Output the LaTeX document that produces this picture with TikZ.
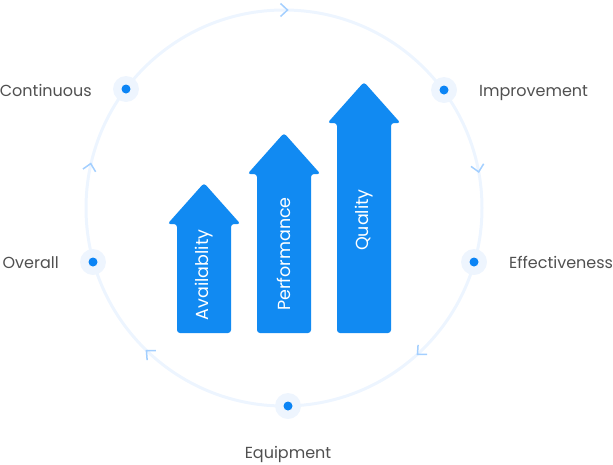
\documentclass[tikz,border=0pt]{standalone}
\usepackage{fontspec}
\setmainfont{Poppins}
\usepackage{tikz}
\usetikzlibrary{positioning}
\definecolor{ringblue}{HTML}{EDF5FF}
\definecolor{haloblue}{HTML}{EEF5FE}
\definecolor{dotblue}{HTML}{0B84F5}
\definecolor{arrowblue}{HTML}{118AF2}
\definecolor{chevblue}{HTML}{A3CFFF}
\definecolor{labelgray}{HTML}{505050}
\tikzset{
  ring/.style={draw=ringblue, line width=3pt},
  halo/.style={fill=haloblue},
  dot/.style={fill=dotblue},
  blockarrow/.style={fill=arrowblue, rounded corners=3pt},
  arrowtext/.style={text=white, inner sep=0pt, font=\fontsize{17.5}{17.5}\selectfont, rotate=90},
  steplabel/.style={text=labelgray, inner sep=0pt, font=\fontsize{16}{16}\selectfont},
  chev/.pic={\draw[draw=chevblue, line width=1.5pt] (-3.5,-6.5) -- (3.5,0) -- (-3.5,6.5);}
}

\begin{document}
\begin{tikzpicture}[x=1pt, y=-1pt]
\useasboundingbox (0,0) rectangle (613,464);
\coordinate (C) at (284,208);
\coordinate (cont) at (126,89);
\coordinate (impr) at (444,90);
\coordinate (effe) at (474,262);
\coordinate (equi) at (288,406);
\coordinate (over) at (93,262);
\draw[ring] (C) circle[radius=198];
\pic[rotate=0] at (284,10) {chev};
\pic[rotate=-78.5] at (478,168.5) {chev};
\pic[rotate=-136.6] at (420,352) {chev};
\pic[rotate=137.1] at (149,353) {chev};
\pic[rotate=78] at (90,167) {chev};
\foreach \p in {cont,impr,effe,equi,over}{
  \fill[halo] (\p) circle[radius=13];
  \fill[dot] (\p) circle[radius=4.5];
}
\node[steplabel, anchor=base east] (contlabel) at (92,96) {Continuous};
\node[steplabel, anchor=base west] (imprlabel) at (479,96) {Improvement};
\node[steplabel, anchor=base west] (effelabel) at (509,268) {Effectiveness};
\node[steplabel, anchor=base east] (overlabel) at (59,268) {Overall};
\node[steplabel, anchor=base] (equilabel) at (288,458) {Equipment};
\fill[blockarrow] (177,333) -- (177,224) -- (167.5,224) -- (204,183) -- (240.5,224) -- (231,224) -- (231,333) -- cycle;
\fill[blockarrow] (257,333) -- (257,174) -- (247.5,174) -- (284,133) -- (320.5,174) -- (311,174) -- (311,333) -- cycle;
\fill[blockarrow] (337,333) -- (337,123) -- (327.5,123) -- (364,82) -- (400.5,123) -- (391,123) -- (391,333) -- cycle;
\node[arrowtext] (avail) at (204,275) {Availablity};
\node[arrowtext] (perf) at (284,254) {Performance};
\node[arrowtext] (qual) at (364,220) {Quality};
\end{tikzpicture}
\end{document}
